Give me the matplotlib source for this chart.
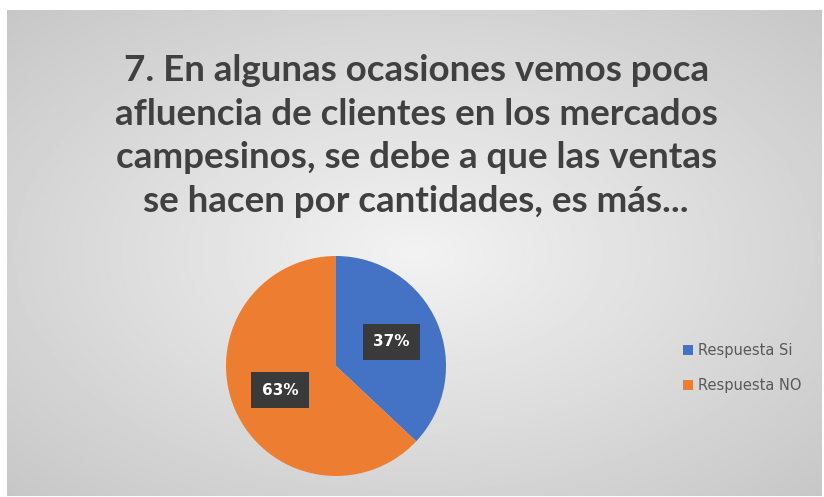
import numpy as np
import matplotlib
matplotlib.use("Agg")
import matplotlib.pyplot as plt

# Datos de la pregunta 7
labels = ['Respuesta Si', 'Respuesta NO']
values = [37, 63]
colors = ['#4472C4', '#ED7D31']
title = ('7. En algunas ocasiones vemos poca\n'
         'afluencia de clientes en los mercados\n'
         'campesinos, se debe a que las ventas\n'
         'se hacen por cantidades, es más...')

fig = plt.figure(figsize=(8.24, 4.97), dpi=100)
fig.patch.set_facecolor('white')

# gray radial background (chart area)
bg = fig.add_axes([7 / 824, 1 / 497, 815 / 824, 486 / 497])
yy, xx = np.mgrid[-1:1:300j, -1:1:500j]
r = np.sqrt(xx ** 2 + yy ** 2) / np.sqrt(2)
bg.imshow(0.95 - 0.17 * r, cmap='gray', vmin=0, vmax=1, aspect='auto',
          extent=[0, 1, 0, 1], interpolation='bilinear')
bg.axis('off')

fig.text(0.505, 1 - 136 / 497, title, ha='center', va='center', fontsize=26.5,
         fontweight='bold', color='#404040', family='Lato', linespacing=1.4)

ax = fig.add_axes([(336 - 110) / 824, (497 - 366 - 110) / 497,
                   220 / 824, 220 / 497])
wedges, texts, autotexts = ax.pie(values, colors=colors, startangle=90,
                                  counterclock=False, autopct='%d%%',
                                  pctdistance=0.55)
for t in autotexts:
    t.set_color('white')
    t.set_fontsize(11)
    t.set_fontweight('bold')
    t.set_bbox(dict(boxstyle='square,pad=0.7', facecolor='#3a3a3a',
                    edgecolor='none'))
ax.set_xlim(-1, 1)
ax.set_ylim(-1, 1)
ax.set_aspect('equal')
ax.axis('off')

leg = fig.legend(wedges, labels, loc='center left',
                 bbox_to_anchor=(670 / 824, 1 - 368 / 497), frameon=False,
                 fontsize=10.5, handlelength=0.7, handleheight=0.7,
                 handletextpad=0.3, labelspacing=1.4, labelcolor='#595959')

fig.savefig('out.png', dpi=100)
